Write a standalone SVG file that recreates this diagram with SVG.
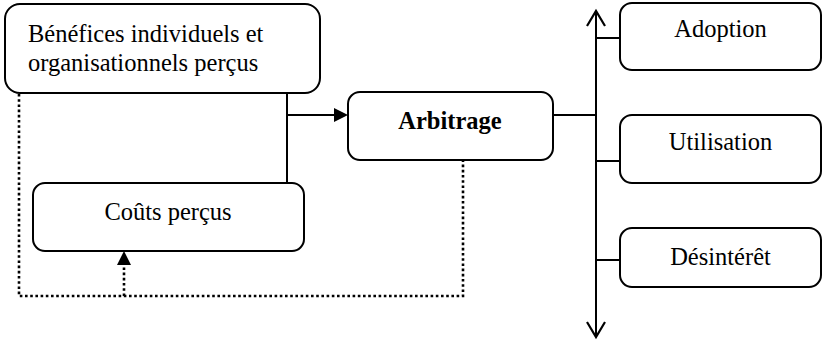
<svg xmlns="http://www.w3.org/2000/svg" width="823" height="344" viewBox="0 0 823 344">
  <style>
    .box { fill: #fff; stroke: #000; stroke-width: 2; }
    .lbl { font-family: "Liberation Serif", "Times New Roman", serif; font-size: 24.5px; fill: #000; }
    .mid { text-anchor: middle; }
    .solid { fill: none; stroke: #000; stroke-width: 2; }
    .dots { fill: none; stroke: #000; stroke-width: 2.6; stroke-dasharray: 2.6 2.6; }
    .head { fill: #000; stroke: none; }
    .open { fill: none; stroke: #000; stroke-width: 2.2; stroke-linejoin: miter; }
  </style>

  <g id="connectors">
    <!-- benefits/costs joiner feeding the arbitration -->
    <line class="solid" x1="287" y1="93" x2="287" y2="183"/>
    <line class="solid" x1="287" y1="115" x2="336" y2="115"/>
    <polygon class="head" points="348,115 334,108 334,122"/>
    <!-- arbitration to outcome axis -->
    <line class="solid" x1="553" y1="115" x2="596" y2="115"/>
    <!-- outcome axis, double-headed -->
    <line class="solid" x1="596" y1="11" x2="596" y2="337"/>
    <polyline class="open" points="587,26 596,11 605,26"/>
    <polyline class="open" points="587,322 596,337 605,322"/>
    <line class="solid" x1="596" y1="38" x2="620" y2="38"/>
    <line class="solid" x1="596" y1="161" x2="620" y2="161"/>
    <line class="solid" x1="596" y1="260" x2="620" y2="260"/>
    <!-- dotted feedback loop -->
    <polyline class="dots" points="19,94 19,296 463,296 463,161"/>
    <line class="dots" x1="124" y1="296" x2="124" y2="264"/>
    <polygon class="head" points="124,251 117,265 131,265"/>
  </g>

  <g id="node-benefices">
    <rect class="box" x="5" y="4" width="315" height="89" rx="15"/>
    <text class="lbl" x="28" y="42">Bénéfices individuels et</text>
    <text class="lbl" x="28" y="71">organisationnels perçus</text>
  </g>

  <g id="node-couts">
    <rect class="box" x="33" y="183" width="271" height="68" rx="12"/>
    <text class="lbl mid" x="168" y="220">Coûts perçus</text>
  </g>

  <g id="node-arbitrage">
    <rect class="box" x="348" y="92" width="205" height="68" rx="12"/>
    <text class="lbl mid" x="450" y="129" font-weight="bold">Arbitrage</text>
  </g>

  <g id="node-adoption">
    <rect class="box" x="620" y="3" width="201" height="67" rx="12"/>
    <text class="lbl mid" x="720.5" y="37">Adoption</text>
  </g>

  <g id="node-utilisation">
    <rect class="box" x="620" y="115" width="201" height="68" rx="12"/>
    <text class="lbl mid" x="720.5" y="150">Utilisation</text>
  </g>

  <g id="node-desinteret">
    <rect class="box" x="620" y="228" width="201" height="59" rx="12"/>
    <text class="lbl mid" x="720.5" y="265">Désintérêt</text>
  </g>
</svg>
